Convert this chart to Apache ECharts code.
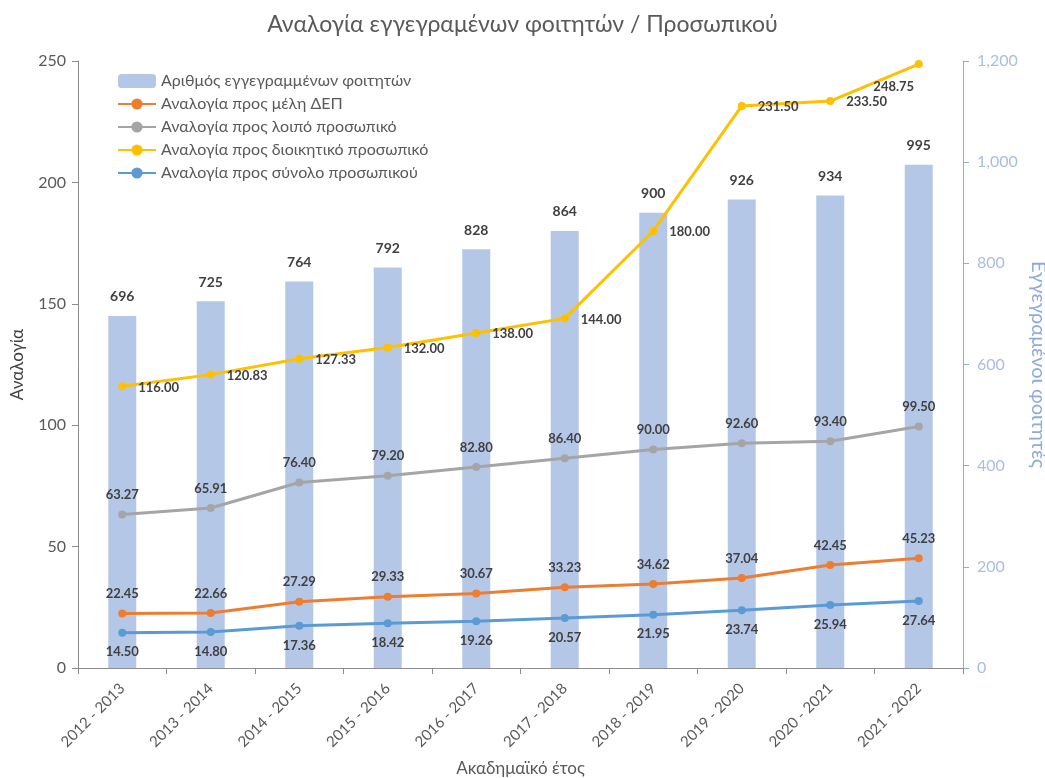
<!DOCTYPE html>
<html><head><meta charset="utf-8">
<script src="https://cdn.jsdelivr.net/npm/echarts@6/dist/echarts.min.js"></script>
<style>html,body{margin:0;padding:0;background:#fff}#c{width:1045px;height:778px}</style>
</head><body><div id="c"></div>
<script>
const categories = ['2012 - 2013','2013 - 2014','2014 - 2015','2015 - 2016','2016 - 2017','2017 - 2018','2018 - 2019','2019 - 2020','2020 - 2021','2021 - 2022'];
const students = [696,725,764,792,828,864,900,926,934,995];
const ratioDEP = [22.45,22.66,27.29,29.33,30.67,33.23,34.62,37.04,42.45,45.23];
const ratioOther = [63.27,65.91,76.40,79.20,82.80,86.40,90.00,92.60,93.40,99.50];
const ratioAdmin = [116.00,120.83,127.33,132.00,138.00,144.00,180.00,231.50,233.50,248.75];
const ratioTotal = [14.50,14.80,17.36,18.42,19.26,20.57,21.95,23.74,25.94,27.64];
const names = ['Αριθμός εγγεγραμμένων φοιτητών','Αναλογία προς μέλη ΔΕΠ','Αναλογία προς λοιπό προσωπικό','Αναλογία προς διοικητικό προσωπικό','Αναλογία προς σύνολο προσωπικού'];

const FONT = 'Lato';
const lblStyle = {show:true, fontFamily:FONT, fontWeight:'bold', fontSize:13, color:'#404040', formatter: p => p.value.toFixed(2)};
function lineSeries(name, data, color, label, z){
  return {name, type:'line', data, yAxisIndex:0, z,
    lineStyle:{color, width:3}, itemStyle:{color}, symbol:'circle', symbolSize:8,
    label:Object.assign({}, lblStyle, label)};
}
const adminData = ratioAdmin.map((v,i)=> i===ratioAdmin.length-1 ?
  {value:v, label:{position:[-21, 27], align:'center', verticalAlign:'middle'}} : v);

const chart = echarts.init(document.getElementById('c'));
chart.setOption({
  animation:false,
  textStyle:{fontFamily:FONT},
  title:{text:'Αναλογία εγγεγραμένων φοιτητών / Προσωπικού', left:'center', top:8,
    textStyle:{fontFamily:FONT, fontSize:23, fontWeight:'normal', color:'#595959'}},
  legend:{orient:'vertical', left:112, top:68, itemGap:7, itemWidth:38, itemHeight:14,
    textStyle:{fontFamily:FONT, fontSize:16, color:'#595959'}, data:names},
  grid:{left:78, right:82, top:61, bottom:110, containLabel:false, outerBoundsMode:'none'},
  xAxis:{type:'category', data:categories, name:'Ακαδημαϊκό έτος', nameLocation:'middle', nameGap:92,
    nameTextStyle:{fontFamily:FONT, fontSize:17, color:'#595959'},
    axisLine:{lineStyle:{color:'#8c8c8c'}}, axisTick:{show:true, alignWithLabel:false, length:6, lineStyle:{color:'#8c8c8c'}},
    axisLabel:{rotate:45, fontFamily:FONT, fontSize:15, color:'#595959', margin:18}},
  yAxis:[
    {type:'value', min:0, max:250, interval:50, name:'Αναλογία', nameLocation:'middle', nameGap:52,
     nameTextStyle:{fontFamily:FONT, fontSize:17, color:'#404040'},
     axisLine:{show:true, lineStyle:{color:'#8c8c8c'}}, axisTick:{show:true, length:6, lineStyle:{color:'#8c8c8c'}},
     splitLine:{show:false}, axisLabel:{fontFamily:FONT, fontSize:16, color:'#595959', margin:12}},
    {type:'value', min:0, max:1200, interval:200, name:'Εγγεγραμένοι φοιτητές', nameLocation:'middle', nameGap:64, nameRotate:-90,
     nameTextStyle:{fontFamily:FONT, fontSize:20, color:'#8faadc'},
     axisLine:{show:true, lineStyle:{color:'#8faadc'}}, axisTick:{show:true, length:6, lineStyle:{color:'#8faadc'}},
     splitLine:{show:false}, axisLabel:{fontFamily:FONT, fontSize:16, color:'#a9bde3', margin:14,
       formatter: v => v.toLocaleString('en-US')}}
  ],
  series:[
    {name:names[0], type:'bar', data:students, yAxisIndex:1, barWidth:28, z:1,
     itemStyle:{color:'#b4c7e7'},
     label:{show:true, position:'top', distance:12, fontFamily:FONT, fontWeight:'bold', fontSize:14, color:'#404040'}},
    lineSeries(names[1], ratioDEP, '#ed7d31', {position:'top', distance:9}, 3),
    lineSeries(names[2], ratioOther, '#a5a5a5', {position:'top', distance:9}, 3),
    lineSeries(names[3], adminData, '#ffc000', {position:[20, 5], align:'left', verticalAlign:'middle'}, 3),
    lineSeries(names[4], ratioTotal, '#5b9bd5', {position:'bottom', distance:9}, 3)
  ]
});
</script></body></html>
